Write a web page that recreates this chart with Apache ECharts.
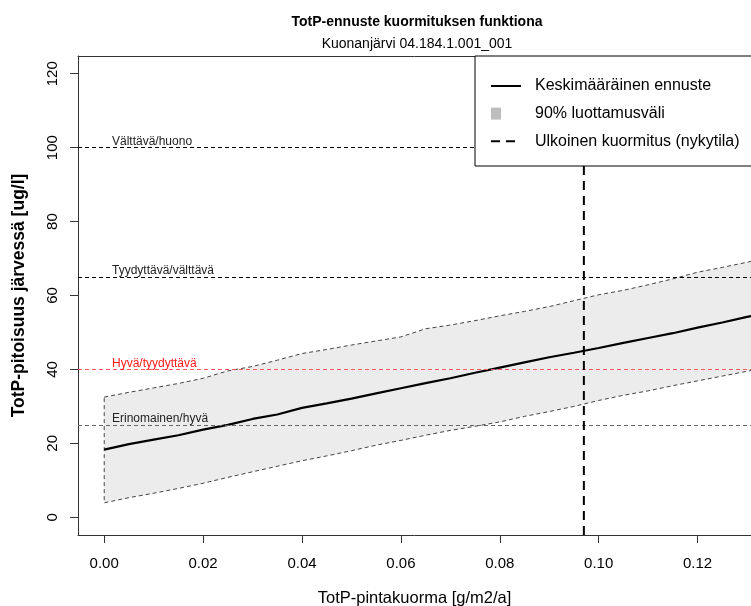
<!DOCTYPE html>
<html>
<head>
<meta charset="utf-8">
<script src="https://cdn.jsdelivr.net/npm/echarts@6/dist/echarts.min.js"></script>
<style>
  html, body { margin: 0; padding: 0; background: #fff; }
  #figureWrapper { width: 751px; height: 606px; }
</style>
</head>
<body>
<div id="figureWrapper"></div>
<script>
// TotP-pintakuorma (g/m2/a)
const load = [0, 0.005, 0.01, 0.015, 0.02, 0.025, 0.03, 0.035, 0.04, 0.045, 0.05, 0.055, 0.06, 0.065,
  0.07, 0.075, 0.08, 0.085, 0.09, 0.095, 0.1, 0.105, 0.11, 0.115, 0.12, 0.125, 0.13, 0.133];
// mean prediction and 90% band (ug/l)
const meanTotP = [18.3, 19.8, 21.0, 22.2, 23.7, 25.0, 26.6, 27.8, 29.6, 30.8, 32.1, 33.5, 34.9, 36.3,
  37.6, 39.1, 40.5, 41.9, 43.3, 44.5, 45.8, 47.2, 48.5, 49.8, 51.3, 52.7, 54.2, 55.0];
const upperTotP = [32.5, 33.8, 35.0, 36.2, 37.6, 39.6, 40.8, 42.5, 44.3, 45.4, 46.6, 47.7, 48.8, 51.0,
  52.0, 53.2, 54.5, 55.7, 57.0, 58.6, 60.2, 61.4, 62.9, 64.5, 66.3, 67.6, 69.0, 69.8];
const lowerTotP = [3.9, 5.3, 6.5, 7.8, 9.2, 10.8, 12.3, 13.8, 15.3, 16.6, 18.0, 19.5, 20.8, 22.2,
  23.5, 24.6, 25.8, 27.3, 28.6, 30.0, 31.6, 33.0, 34.2, 35.6, 36.9, 38.2, 39.5, 40.2];

// current external load (g/m2/a)
const currentLoad = 0.097;

const thresholdValues = [100, 65, 40, 25];
const thresholdNames = ['Välttävä/huono', 'Tyydyttävä/välttävä', 'Hyvä/tyydyttävä', 'Erinomainen/hyvä'];
const thresholdColors = ['#000000', '#000000', '#ff5a5a', '#666666'];
const thresholdLabelColors = ['#222222', '#222222', '#ff1a1a', '#222222'];

const xTicks = [0, 0.02, 0.04, 0.06, 0.08, 0.1, 0.12];
const yTicks = [0, 20, 40, 60, 80, 100, 120];

const xMin = -0.0053, xMax = 0.1308;
const yMin = -4.8, yMax = 124.8;

const fontFamily = 'Liberation Sans, Arial, sans-serif';

function pairs(ys) {
  return load.map((x, i) => [x, ys[i]]);
}

let myChart = echarts.init(document.getElementById('figureWrapper'), null, { renderer: 'canvas' });

let option = {
  animation: false,
  textStyle: { fontFamily: fontFamily },
  title: [
    {
      text: 'TotP-ennuste kuormituksen funktiona',
      left: 417, top: 15, textAlign: 'center', padding: 0,
      textStyle: { fontSize: 14, fontWeight: 'bold', color: '#000', fontFamily: fontFamily }
    },
    {
      text: 'Kuonanjärvi 04.184.1.001_001',
      left: 417, top: 37, textAlign: 'center', padding: 0,
      textStyle: { fontSize: 14, fontWeight: 'normal', color: '#000', fontFamily: fontFamily }
    }
  ],
  grid: {
    left: 78, top: 56, bottom: 71, right: 0,
    show: false,
    containLabel: false,
    outerBoundsMode: 'none'
  },
  // legend frame runs past the right edge like in the original
  graphic: [
    {
      type: 'rect',
      z: 50,
      shape: { x: 475, y: 56, width: 400, height: 110 },
      style: { fill: '#fff', stroke: '#000', lineWidth: 1 }
    }
  ],
  legend: {
    orient: 'vertical',
    left: 475, top: 56,
    padding: [22, 10, 18, 15],
    itemWidth: 30, itemHeight: 14, itemGap: 11.6,
    backgroundColor: 'transparent', borderWidth: 0,
    selectedMode: false, z: 100,
    textStyle: { fontSize: 16, color: '#000', fontFamily: fontFamily, lineHeight: 16, padding: [0, 0, 0, 9] },
    data: [
      { name: 'Keskimääräinen ennuste', itemStyle: { opacity: 0 } },
      { name: '90% luottamusväli', icon: 'path://M0,0M30,14M0,1L10,1L10,13L0,13Z', itemStyle: { color: '#bebebe' } },
      { name: 'Ulkoinen kuormitus (nykytila)', itemStyle: { opacity: 0 } }
    ]
  },
  xAxis: [
    {
      type: 'value',
      min: xMin, max: xMax,
      name: 'TotP-pintakuorma [g/m2/a]',
      nameLocation: 'middle', nameGap: 55,
      nameTextStyle: { fontSize: 16.5, color: '#000', fontFamily: fontFamily },
      axisLine: { show: true, onZero: false, lineStyle: { color: '#333', width: 1 } },
      axisTick: { show: true, length: 8, customValues: xTicks, lineStyle: { color: '#333' } },
      axisLabel: {
        customValues: xTicks, fontSize: 15, color: '#000', margin: 21,
        formatter: (v) => v.toFixed(2)
      },
      splitLine: { show: false }
    },
    {
      type: 'value',
      position: 'top',
      min: xMin, max: xMax,
      axisLine: { show: true, onZero: false, lineStyle: { color: '#333', width: 1 } },
      axisTick: { show: false },
      axisLabel: { show: false },
      splitLine: { show: false }
    }
  ],
  yAxis: {
    type: 'value',
    min: yMin, max: yMax,
    name: 'TotP-pitoisuus järvessä [ug/l]',
    nameLocation: 'middle', nameGap: 50,
    nameTextStyle: { fontSize: 17.5, fontWeight: 'bold', color: '#000', fontFamily: fontFamily },
    axisLine: { show: true, onZero: false, lineStyle: { color: '#333', width: 1 } },
    axisTick: { show: true, length: 8, customValues: yTicks, lineStyle: { color: '#333' } },
    axisLabel: { customValues: yTicks, rotate: 90, fontSize: 15, color: '#000', margin: 18 },
    splitLine: { show: false }
  },
  series: [
    {
      name: '90% luottamusväli',
      type: 'custom',
      z: 1,
      silent: true,
      itemStyle: { color: '#bebebe' },
      data: load.map((x, i) => [x, lowerTotP[i], upperTotP[i]]),
      encode: { x: 0, y: [1, 2] },
      renderItem: function (params, api) {
        if (params.dataIndex !== 0) return null;
        const top = load.map((x, i) => api.coord([x, upperTotP[i]]));
        const bottom = load.map((x, i) => api.coord([x, lowerTotP[i]])).reverse();
        return {
          type: 'polygon',
          shape: { points: top.concat(bottom) },
          style: { fill: '#ececec', stroke: '#444', lineWidth: 1, lineDash: [4, 3] }
        };
      }
    },
    {
      name: 'luokkarajat',
      type: 'line',
      data: [],
      z: 3,
      silent: true,
      markLine: {
        silent: true,
        symbol: 'none',
        data: thresholdValues.map((v, i) => ({
          name: thresholdNames[i],
          yAxis: v,
          lineStyle: { color: thresholdColors[i], type: [4, 3], width: 1 },
          label: { color: thresholdLabelColors[i] }
        })),
        label: {
          show: true,
          position: 'insideStartTop',
          distance: [34, 0],
          formatter: '{b}',
          fontSize: 12,
          fontFamily: fontFamily
        }
      }
    },
    {
      name: 'Keskimääräinen ennuste',
      type: 'line',
      data: pairs(meanTotP),
      symbol: 'none',
      silent: true,
      itemStyle: { color: '#000' },
      lineStyle: { color: '#000', width: 2.2 },
      z: 4
    },
    {
      name: 'Ulkoinen kuormitus (nykytila)',
      type: 'line',
      data: [[currentLoad, yMin], [currentLoad, yMax]],
      symbol: 'none',
      silent: true,
      itemStyle: { color: '#000' },
      lineStyle: { color: '#000', width: 2, type: [9, 6] },
      z: 5
    }
  ]
};

myChart.setOption(option);

window.addEventListener('resize', function() {
  myChart.resize();
});
</script>
</body>
</html>
